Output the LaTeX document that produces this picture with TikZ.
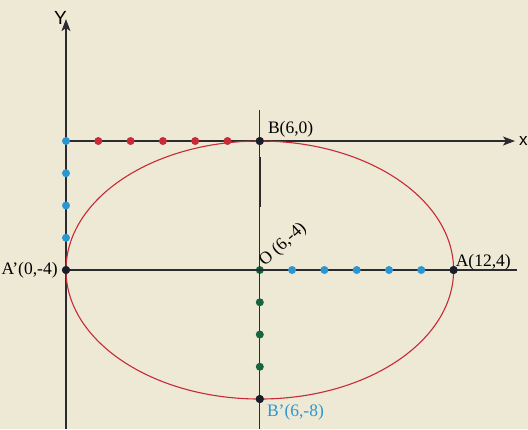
\documentclass[tikz,border=0pt]{standalone}
\usepackage{fontspec}
\setmainfont{Liberation Serif}
\setsansfont{Liberation Sans}
\usetikzlibrary{arrows.meta,positioning}
\definecolor{papier}{RGB}{237,233,212}
\definecolor{ellred}{RGB}{200,42,55}
\definecolor{ptblue}{RGB}{42,150,210}
\definecolor{ptgreen}{RGB}{24,100,62}
\definecolor{ptblack}{RGB}{26,30,42}
\definecolor{axgray}{RGB}{42,42,48}
\tikzset{
  dot/.style={circle,fill=#1,inner sep=0pt,minimum size=8pt},
  lbl/.style={font=\fontsize{17.5}{20}\selectfont,inner sep=0pt},
  axline/.style={draw=axgray,line width=1.2pt},
  axarrow/.style={axline,-{Stealth[length=12pt,width=9pt,inset=3pt]}}
}
\begin{document}
\begin{tikzpicture}[x=32.3pt,y=32.25pt]
    \fill[papier] (-2.043,-8.93) rectangle (14.303,4.372);
    \useasboundingbox (-2.043,-8.93) rectangle (14.303,4.372);
    \coordinate (ybot) at (0,-8.93);
    \coordinate (ytop) at (0,3.78);
    \coordinate (xtop) at (13.9,0);
    \coordinate (vtop) at (6,0.96);
    \coordinate (vbot) at (6,-8.93);
    \coordinate (hend) at (13.96,-4);
    \coordinate (seg1) at (6,-0.5);
    \coordinate (seg2) at (6,-2.05);
    \node[dot=ptblack] (B) at (6,0) {};
    \node[dot=ptblack] (A1) at (0,-4) {};
    \node[dot=ptblack] (A) at (12,-4) {};
    \node[dot=ptgreen] (O) at (6,-4) {};
    \node[dot=ptblack] (B1) at (6,-8) {};
    \draw[axarrow] (ybot) -- (ytop);
    \draw[axarrow] (A1 |- B) -- (xtop);
    \draw[axline] (vtop) -- (vbot);
    \draw[axline] (A1.center) -- (hend);
    \draw[axgray,line width=2.3pt] (seg1) -- (seg2);
    \draw[ellred,line width=1.1pt] (O.center) ellipse [x radius=6, y radius=4];
    \foreach \i in {1,...,5} {
      \node[dot=ellred] (r\i) at (\i,0) {};
      \node[dot=ptblue] (h\i) at (6+\i,-4) {};
    }
    \foreach \i in {0,...,3} {
      \node[dot=ptblue] (v\i) at (0,-\i) {};
    }
    \foreach \i in {1,...,3} {
      \node[dot=ptgreen] (g\i) at (6,-4-\i) {};
    }
    \node[dot=ptblack] at (B) {};
    \node[dot=ptblack] at (A1) {};
    \node[dot=ptblack] at (A) {};
    \node[dot=ptblack] at (B1) {};
    \node[font=\sffamily\fontsize{19}{22}\selectfont,inner sep=0pt,anchor=base] (ylbl) at ([xshift=-5.5pt,yshift=-5pt]ytop) {Y};
    \node[font=\sffamily\fontsize{17}{20}\selectfont,inner sep=0pt,anchor=base west] (xlbl) at ([xshift=4pt,yshift=-4pt]xtop) {x};
    \node[lbl,anchor=base west] (Blbl) at ([xshift=8pt,yshift=8pt]B.center) {B(6,0)};
    \node[lbl,anchor=base west] (Albl) at ([xshift=2pt,yshift=4pt]A.center) {A(12,4)};
    \node[lbl,left=4pt of A1] (A1lbl) {A'(0,-4)};
    \node[lbl,rotate=42,anchor=base west] (Olbl) at ([xshift=5pt,yshift=3pt]O.center) {O (6,-4)};
    \node[lbl,text=ptblue,anchor=base west] (B1lbl) at ([xshift=7pt,yshift=-17pt]B1.center) {B'(6,-8)};
\end{tikzpicture}
\end{document}
